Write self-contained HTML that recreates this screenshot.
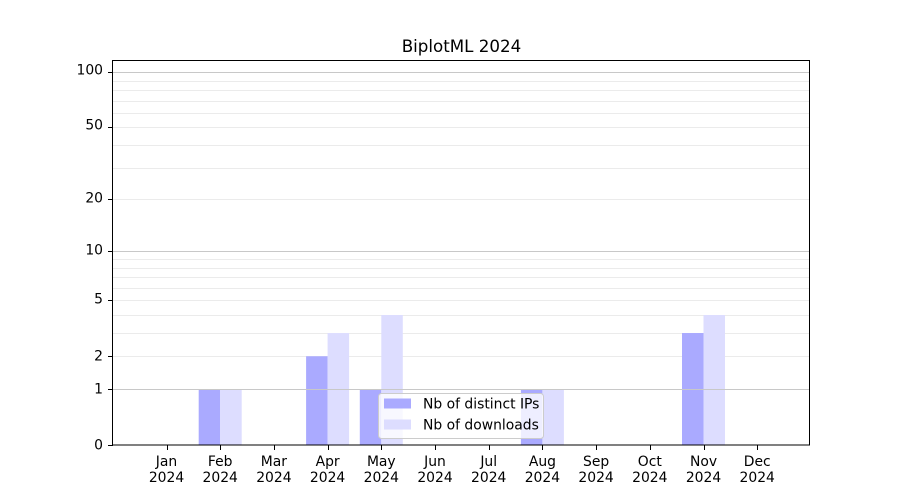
<!DOCTYPE html>
<html><head><meta charset="utf-8"><style>
html,body{margin:0;padding:0;background:#fff}
svg{display:block;font-family:"DejaVu Sans","Liberation Sans",sans-serif}
</style></head><body>
<svg id="s" width="900" height="500" viewBox="0 0 900 500" xmlns="http://www.w3.org/2000/svg">
<rect width="900" height="500" fill="#fff"/>
<g id="grid"></g>
<g id="bars"></g>
<g id="major"></g>
<rect x="112.5" y="60.5" width="697" height="384.5" fill="none" stroke="#000" stroke-width="1"/>
<g id="ticks" stroke="#000" stroke-width="1"></g>
<g font-size="13.9" fill="#000" text-anchor="end">
<text x="103" y="449.5">0</text>
<text x="103" y="393.5">1</text>
<text x="103" y="360.5">2</text>
<text x="103" y="303.5">5</text>
<text x="103" y="254.5">10</text>
<text x="103" y="202.5">20</text>
<text x="103" y="129.5">50</text>
<text x="103" y="74.5">100</text>
</g>
<g font-size="13.9" fill="#000" text-anchor="middle">
<text x="166.5" y="466">Jan</text><text x="166.5" y="482">2024</text>
<text x="220.2" y="466">Feb</text><text x="220.2" y="482">2024</text>
<text x="273.9" y="466">Mar</text><text x="273.9" y="482">2024</text>
<text x="327.6" y="466">Apr</text><text x="327.6" y="482">2024</text>
<text x="381.3" y="466">May</text><text x="381.3" y="482">2024</text>
<text x="435" y="466">Jun</text><text x="435" y="482">2024</text>
<text x="488.7" y="466">Jul</text><text x="488.7" y="482">2024</text>
<text x="542.4" y="466">Aug</text><text x="542.4" y="482">2024</text>
<text x="596.1" y="466">Sep</text><text x="596.1" y="482">2024</text>
<text x="649.8" y="466">Oct</text><text x="649.8" y="482">2024</text>
<text x="703.5" y="466">Nov</text><text x="703.5" y="482">2024</text>
<text x="757.2" y="466">Dec</text><text x="757.2" y="482">2024</text>
</g>
<text x="461.5" y="52" font-size="16.7" text-anchor="middle">BiplotML 2024</text>
<rect x="378.5" y="393.5" width="165" height="45" rx="3" fill="#fff" fill-opacity="0.8" stroke="#ccc" stroke-width="1"/>
<rect x="384" y="398.5" width="27" height="10" fill="#aaaaff"/>
<rect x="384" y="419.5" width="27" height="10" fill="#ddddff"/>
<text x="423" y="408.5" font-size="13.9">Nb of distinct IPs</text>
<text x="423" y="429.5" font-size="13.9">Nb of downloads</text>
<script>
var ns="http://www.w3.org/2000/svg";
function Y(v){return 445-186*Math.log10(1+v);}
function el(p,t,a){var e=document.createElementNS(ns,t);for(var k in a)e.setAttribute(k,a[k]);p.appendChild(e);return e;}
var g=document.getElementById("grid");
[2,3,4,5,6,7,8,9,20,30,40,50,60,70,80,90].forEach(function(v){var y=Math.round(Y(v))+0.5;el(g,"line",{x1:113,x2:810,y1:y,y2:y,stroke:"#ebebeb","stroke-width":1});});
var b=document.getElementById("bars");
var ip=[0,1,0,2,1,0,0,1,0,0,3,0], dl=[0,1,0,3,4,0,0,1,0,0,4,0];
for(var i=0;i<12;i++){var c=166.5+53.7*i;
if(ip[i]){var y=Y(ip[i]);el(b,"rect",{x:c-21.5,y:y,width:21.5,height:445-y,fill:"#aaaaff"});}
if(dl[i]){var y=Y(dl[i]);el(b,"rect",{x:c,y:y,width:21.5,height:445-y,fill:"#ddddff"});}}
var m=document.getElementById("major");
[1,10,100].forEach(function(v){var y=Math.round(Y(v))+0.5;el(m,"line",{x1:113,x2:809,y1:y,y2:y,stroke:"#c8c8c8","stroke-width":1});});
var t=document.getElementById("ticks");
[0,1,2,5,10,20,50,100].forEach(function(v){var y=Math.round(Y(v))+0.5;el(t,"line",{x1:108,x2:113,y1:y,y2:y});});
for(var i=0;i<12;i++){var c=Math.round(166.5+53.7*i)+0.5;el(t,"line",{x1:c,x2:c,y1:445,y2:450});}
</script>
</svg>
</body></html>
